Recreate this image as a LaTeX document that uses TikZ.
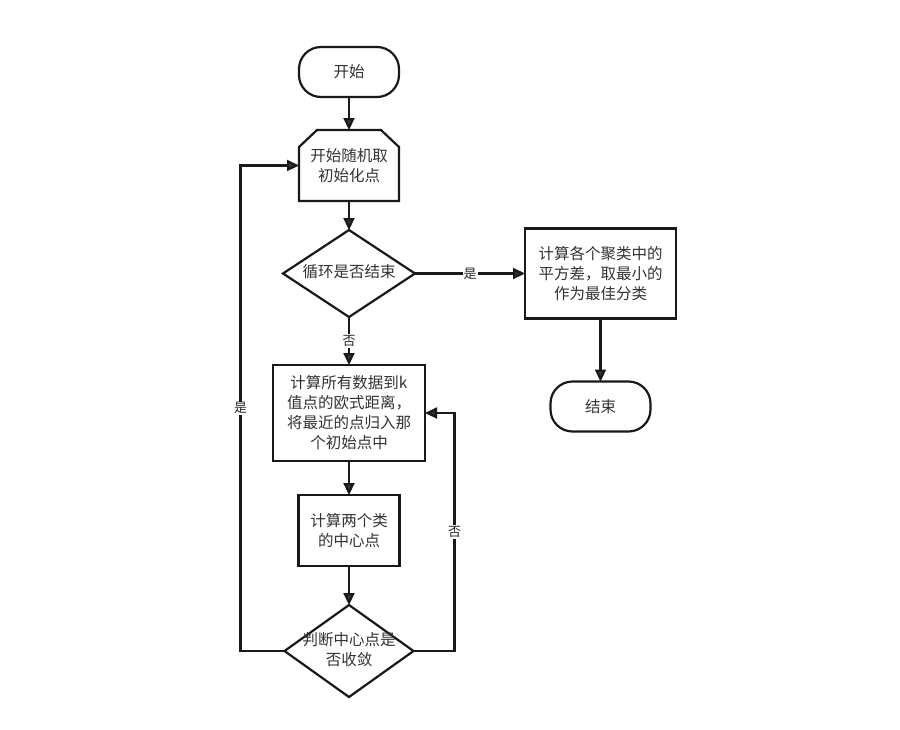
\documentclass[tikz,border=0pt]{standalone}
\usepackage{fontspec}
\setmainfont{Noto Sans CJK SC}
\usepackage{tikz}
\usetikzlibrary{shapes.geometric, arrows.meta, positioning, calc}
\tikzstyle{startstop} = [rectangle, rounded corners=22pt, minimum width=100pt, minimum height=50pt, outer sep=0pt,
                          draw=black!90, line width=2.2pt, fill=white, text=black!80]
\tikzstyle{process}   = [rectangle, minimum width=151pt, minimum height=90pt, align=center, outer sep=0pt,
                          draw=black!90, line width=2.2pt, fill=white, text=black!80]
\tikzstyle{prep}      = [rectangle, minimum width=100pt, minimum height=71pt, align=center, outer sep=0pt, text=black!80]
\tikzstyle{decision}  = [diamond, inner sep=0pt, outer sep=0pt, draw=black!90, line width=2.2pt, fill=white, text=black!80]
\tikzstyle{arrow}     = [line width=2.2pt, draw=black!90, -{Triangle[length=12pt, width=11pt, fill=black!80]}]
\tikzstyle{lbl}       = [fill=white, inner sep=1pt, text=black!85, font=\fontsize{13}{15}\selectfont]
\newcommand{\dtext}[1]{\makebox[0pt]{\begin{tabular}{@{}c@{}}#1\end{tabular}}}

\begin{document}
\begin{tikzpicture}[x=1pt, y=-1pt, every node/.style={font=\fontsize{15.5}{20}\selectfont}]
  \useasboundingbox[fill=white] (0,0) rectangle (900,729);

  \node (start)  [startstop] at (349,72) {开始};
  \node (init)   [prep, below=33pt of start] {开始随机取\\初始化点};
  \draw[line width=2.2pt, draw=black!90]
    ([xshift=18pt]init.north west) -- ([xshift=-18pt]init.north east) -- ([yshift=-17pt]init.north east)
    -- (init.south east) -- (init.south west) -- ([yshift=-17pt]init.north west) -- cycle;
  \node (loop)   [decision, minimum width=132pt, minimum height=87pt, below=29pt of init] {\dtext{循环是否结束}};
  \node (result) [process, right=110pt of loop] {计算各个聚类中的\\平方差，取最小的\\作为最佳分类};
  \node (finish) [startstop, below=63pt of result] {结束};
  \node (dist)   [process, minimum width=152pt, minimum height=96pt, below=48pt of loop]
                 {计算所有数据到k\\值点的欧式距离，\\将最近的点归入那\\个初始点中};
  \node (center) [process, minimum width=101pt, minimum height=71pt, below=34pt of dist] {计算两个类\\的中心点};
  \node (conv)   [decision, minimum width=129pt, minimum height=92pt, below=39pt of center]
                 {\dtext{判断中心点是\\否收敛}};

  \draw[arrow] (start) -- (init);
  \draw[arrow] (init) -- (loop);
  \draw[arrow] (loop) -- node[lbl]{是} (result);
  \draw[arrow] (result) -- (finish);
  \draw[arrow] (loop) -- node[lbl]{否} (dist);
  \draw[arrow] (dist) -- (center);
  \draw[arrow] (center) -- (conv);
  \draw[arrow] (conv.east) -- ++(41,0) |- node[lbl, pos=0.25]{否} (dist.east);
  \draw[arrow] (conv.west) -- ++(-44,0) |- node[lbl, pos=0.25]{是} (init.west);
\end{tikzpicture}
\end{document}
